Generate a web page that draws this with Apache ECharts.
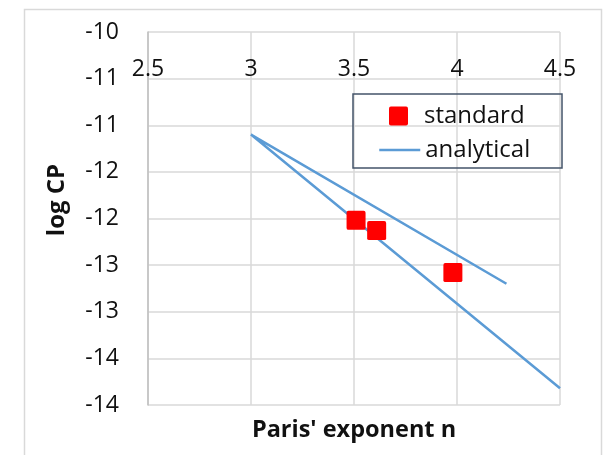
<!DOCTYPE html>
<html>
<head>
<meta charset="utf-8">
<script src="https://cdn.jsdelivr.net/npm/echarts@6/dist/echarts.min.js"></script>
<style>
  html, body { margin: 0; padding: 0; background: #fff; }
  #chart { width: 603px; height: 455px; }
</style>
</head>
<body>
<div id="chart"></div>
<script>
// Measured log CP against the Paris exponent n
const standardN = [3.51, 3.61, 3.98];
const standardLogCP = [-12.02, -12.13, -12.58];

// Analytical curves: both branches start from the same point at n = 3
const analyticalN = [4.5, 3.0, 4.24];
const analyticalLogCP = [-13.82, -11.10, -12.70];

// Axis tick labels (integer display of the half-unit steps)
const xTickLabels = ['2.5', '3', '3.5', '4', '4.5'];
const yTickLabels = ['-10', '-11', '-11', '-12', '-12', '-13', '-13', '-14', '-14'];

const font = '"Open Sans", "Noto Sans", sans-serif';
const textColor = '#111';

// Square marker with slightly rounded corners
const squareMarker = 'path://M2,0 H18 Q20,0 20,2 V18 Q20,20 18,20 H2 Q0,20 0,18 V2 Q0,0 2,0 Z';

const chart = echarts.init(document.getElementById('chart'), null, { renderer: 'canvas' });

chart.setOption({
  animation: false,
  backgroundColor: '#fff',
  textStyle: { fontFamily: font },
  grid: { left: 148, right: 43, top: 32, bottom: 50, containLabel: false },
  xAxis: {
    type: 'value',
    position: 'top',
    min: 2.5, max: 4.5, interval: 0.5,
    axisLine: { show: false },
    axisTick: { show: false },
    axisLabel: {
      inside: true, margin: 26,
      fontSize: 23, color: textColor, fontFamily: font,
      formatter: v => xTickLabels[Math.round((v - 2.5) / 0.5)]
    },
    splitLine: { show: true, lineStyle: { color: '#d9d9d9', width: 1.5 } }
  },
  yAxis: {
    type: 'value',
    min: -14, max: -10, interval: 0.5,
    axisLine: { show: true, lineStyle: { color: '#bfbfbf', width: 1.5 } },
    axisTick: { show: false },
    axisLabel: {
      margin: 29,
      fontSize: 23, color: textColor, fontFamily: font,
      formatter: v => yTickLabels[Math.round((-10 - v) / 0.5)]
    },
    splitLine: { show: true, lineStyle: { color: '#d9d9d9', width: 1.5 } }
  },
  legend: [
    {
      data: ['standard'],
      left: 389, top: 104, padding: 0,
      itemWidth: 19, itemHeight: 19,
      textStyle: { fontSize: 24, color: textColor, fontFamily: font, padding: [0, 0, 0, 11] }
    },
    {
      data: ['analytical'],
      left: 378, top: 138, padding: 0,
      itemWidth: 41, itemHeight: 1,
      itemStyle: { opacity: 0 },
      lineStyle: { width: 2.5 },
      textStyle: { fontSize: 24, color: textColor, fontFamily: font }
    }
  ],
  series: [
    {
      name: 'analytical',
      type: 'line',
      data: analyticalN.map((n, i) => [n, analyticalLogCP[i]]),
      symbol: 'none',
      lineStyle: { color: '#5b9bd5', width: 2.5 },
      itemStyle: { color: '#5b9bd5' },
      z: 2
    },
    {
      name: 'standard',
      type: 'scatter',
      data: standardN.map((n, i) => [n, standardLogCP[i]]),
      symbol: squareMarker,
      symbolSize: 19,
      itemStyle: { color: '#ff0000', opacity: 1 },
      z: 3
    }
  ],
  graphic: [
    {
      type: 'rect',
      silent: true,
      shape: { x: 24.5, y: 9.5, width: 577, height: 520 },
      style: { fill: 'none', stroke: '#d9d9d9', lineWidth: 1.5 }
    },
    {
      type: 'rect',
      silent: true,
      shape: { x: 353, y: 94, width: 209, height: 74 },
      style: { fill: 'none', stroke: '#44546a', lineWidth: 1.5 },
      z: 10
    },
    {
      type: 'text',
      silent: true,
      x: 57, y: 200,
      rotation: Math.PI / 2,
      style: {
        text: 'log CP',
        font: 'bold 24px ' + font,
        fill: textColor,
        align: 'center',
        verticalAlign: 'middle'
      }
    },
    {
      type: 'text',
      silent: true,
      x: 354, y: 430,
      style: {
        text: "Paris' exponent n",
        font: 'bold 23.5px ' + font,
        fill: textColor,
        align: 'center',
        verticalAlign: 'middle'
      }
    }
  ]
});
</script>
</body>
</html>
